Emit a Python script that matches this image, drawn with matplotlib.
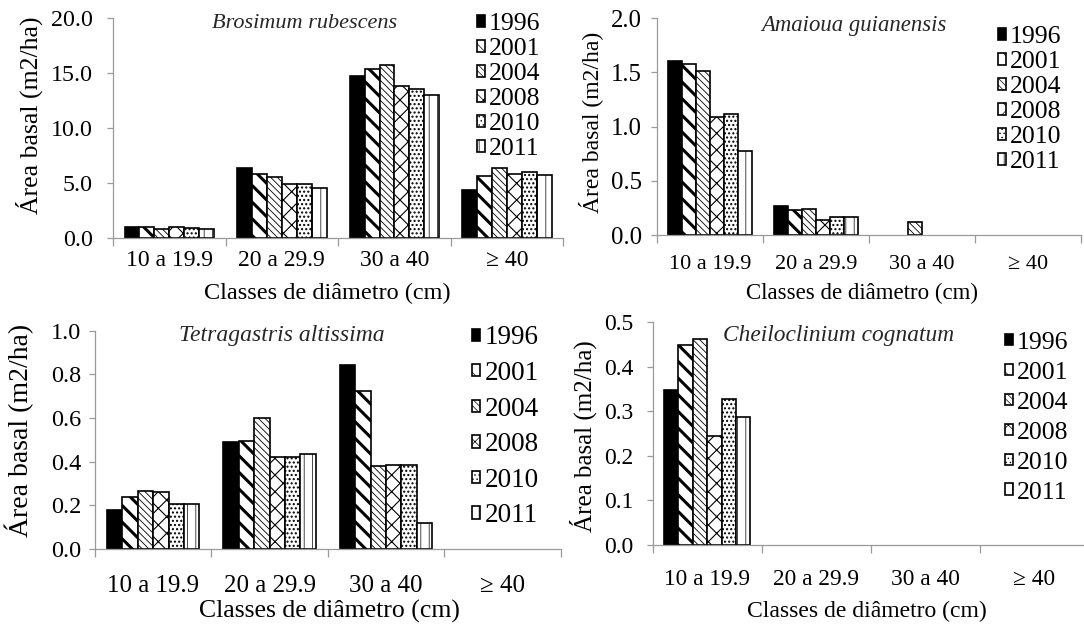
import numpy as np
import matplotlib
matplotlib.use('Agg')
import matplotlib.pyplot as plt
from matplotlib.ticker import FormatStrFormatter

plt.rcParams['font.family'] = ['Liberation Serif', 'DejaVu Serif']

years = ['1996', '2001', '2004', '2008', '2010', '2011']
classes = ['10 a 19.9', '20 a 29.9', '30 a 40', '\u2265 40']
nan = np.nan

# rows = years, columns = diameter classes
brosimum = [[1.06, 6.36, 14.76, 4.43],
            [1.02, 5.85, 15.36, 5.66],
            [0.85, 5.60, 15.73, 6.40],
            [1.00, 4.94, 13.85, 5.85],
            [0.94, 4.94, 13.58, 6.03],
            [0.88, 4.60, 13.00, 5.80]]

amaioua = [[1.61, 0.268, nan, nan],
           [1.575, 0.23, nan, nan],
           [1.517, 0.24, 0.123, nan],
           [1.09, 0.138, nan, nan],
           [1.117, 0.17, nan, nan],
           [0.775, 0.17, nan, nan]]

tetragastris = [[0.18, 0.489, 0.841, nan],
                [0.238, 0.497, 0.726, nan],
                [0.267, 0.60, 0.381, nan],
                [0.262, 0.42, 0.383, nan],
                [0.206, 0.42, 0.385, nan],
                [0.206, 0.434, 0.121, nan]]

cheiloclinium = [[0.348, nan, nan, nan],
                 [0.45, nan, nan, nan],
                 [0.462, nan, nan, nan],
                 [0.245, nan, nan, nan],
                 [0.327, nan, nan, nan],
                 [0.287, nan, nan, nan]]

# bar styles per year
fills = ['black', 'white', 'white', 'white', 'white', 'white']
hatches = ['', '\\\\', '\\\\\\\\\\', 'xx', '....', '||']
hatch_lw = [1.0, 2.2, 0.6, 0.8, 1.0, 0.5]

W, H = 1084, 624
fig = plt.figure(figsize=(W / 100, H / 100), dpi=100)
gray = '#9a9a9a'


def fpos(x, y):
    return x / W, 1 - y / H


def draw_panel(values, title, box, ymax, ystep, fs, title_xy, xlab_xy, ylab_xy,
               leg):
    left, top, right, bottom = box
    ax = fig.add_axes([left / W, 1 - bottom / H, (right - left) / W, (bottom - top) / H])
    x = np.arange(len(classes))
    width = 0.794 / len(years)
    handles = []
    for i, vals in enumerate(values):
        plt.rcParams['hatch.linewidth'] = hatch_lw[i]
        b = ax.bar(x + (i - 2.5) * width, vals, width, color=fills[i],
                   edgecolor='black', linewidth=1.2, hatch=hatches[i])
        for p in b:
            if hasattr(p, 'set_hatch_linewidth'):
                p.set_hatch_linewidth(hatch_lw[i])
        handles.append(b)

    ax.set_xlim(-0.5, 3.5)
    ax.set_ylim(0, ymax)
    for s in ['top', 'right']:
        ax.spines[s].set_visible(False)
    for s in ['left', 'bottom']:
        ax.spines[s].set_color(gray)
        ax.spines[s].set_linewidth(0.9)

    ax.set_xticks(x, classes)
    ax.set_xticks(np.arange(-0.5, 4, 1), minor=True)
    ax.tick_params(axis='x', which='major', length=0, pad=fs['xpad'],
                   labelsize=fs['xtick'])
    ax.tick_params(axis='x', which='minor', length=5.5, color=gray, width=0.9)
    ax.set_yticks(np.arange(0, ymax + ystep / 2, ystep))
    ax.yaxis.set_major_formatter(FormatStrFormatter('%.1f'))
    ax.tick_params(axis='y', length=4, color=gray, width=0.9, pad=fs['ypad'],
                   labelsize=fs['ytick'])

    ax.set_xlabel('Classes de di\u00e2metro (cm)', fontsize=fs['xlabel'], va='center')
    ax.xaxis.set_label_coords(*fpos(*xlab_xy), transform=fig.transFigure)
    ax.set_ylabel('\u00c1rea basal (m2/ha)', fontsize=fs['ylabel'], va='center')
    ax.yaxis.set_label_coords(*fpos(*ylab_xy), transform=fig.transFigure)

    ax.text(*fpos(*title_xy), title, transform=fig.transFigure, ha='center',
            va='center', style='italic', fontsize=fs['title'], color='#262626')

    lx, ltop, lsp = leg
    ax.legend(handles, years, loc='upper left', bbox_to_anchor=fpos(lx, ltop),
              bbox_transform=fig.transFigure, frameon=False, fontsize=fs['legend'],
              handlelength=0.32, handleheight=0.32, handletextpad=0.15,
              labelspacing=lsp, borderpad=0, borderaxespad=0)
    return ax


draw_panel(brosimum, 'Brosimum rubescens', (113, 18.3, 563.3, 238.3), 20, 5,
           dict(xtick=17, ytick=17.3, xlabel=17.5, ylabel=18.5, title=16,
                legend=18.5, xpad=8.4, ypad=10.4),
           (304.5, 23), (327, 293), (29.4, 115), (477, 13, 0.12))

draw_panel(amaioua, 'Amaioua guianensis', (657, 18.3, 1081, 235), 2.0, 0.5,
           dict(xtick=16, ytick=17.8, xlabel=16.5, ylabel=17, title=16.4,
                legend=18.5, xpad=14.7, ypad=6.8),
           (854, 25), (861.7, 293), (590.4, 122.5), (997.6, 26, 0.12))

draw_panel(tetragastris, 'Tetragastris altissima', (95, 330.7, 560.6, 549), 1.0, 0.2,
           dict(xtick=18, ytick=17.5, xlabel=18.5, ylabel=20, title=17,
                legend=19.5, xpad=18.4, ypad=6),
           (281.7, 336), (329, 611.7), (19, 430.8), (471.8, 325.5, 0.39))

draw_panel(cheiloclinium, 'Cheiloclinium cognatum', (652.6, 322.3, 1088.6, 545), 0.5, 0.1,
           dict(xtick=16.8, ytick=17, xlabel=17, ylabel=18, title=16.8,
                legend=18.5, xpad=17.3, ypad=9.6),
           (838.4, 335), (867, 611.7), (583.5, 435.8), (1005, 331.7, 0.31))

fig.savefig('out.png', dpi=100)
